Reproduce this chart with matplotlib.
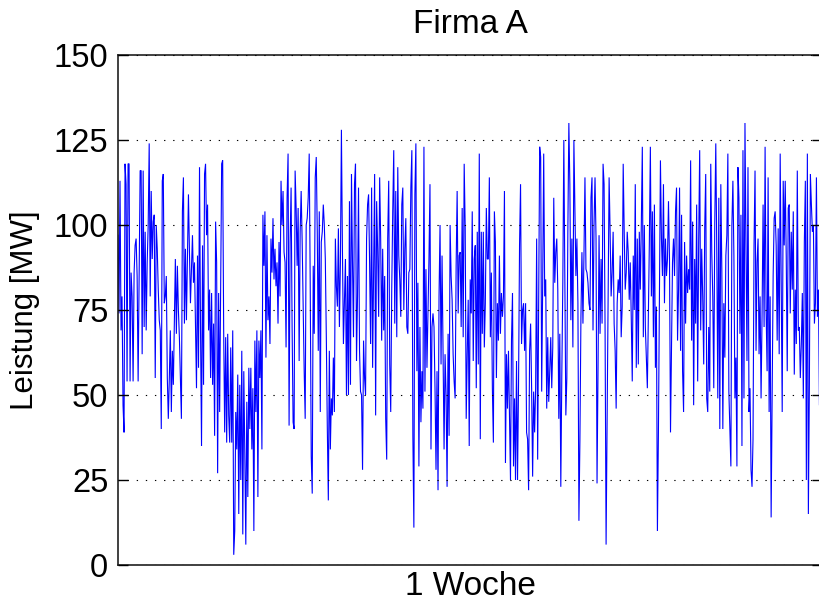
import matplotlib
matplotlib.use("Agg")
import matplotlib.pyplot as plt
import numpy as np

title_text = "Firma A"
x_label = "1 Woche"
y_label = "Leistung [MW]"
y_ticks = [0, 25, 50, 75, 100, 125, 150]
y_tick_labels = ["0", "25", "50", "75", "100", "125", "150"]

leistung_teil1 = [97, 74, 113, 69, 79, 47, 39, 118, 112, 54, 118, 118, 54, 86, 79, 54, 86, 94, 96, 85,
                  54, 84, 116, 116, 62, 116, 70, 98, 69, 89, 100, 124, 79, 110, 90, 101, 103, 55, 100, 93,
                  81, 72, 69, 40, 113, 115, 77, 79, 85, 55, 43, 55, 69, 45, 63, 53, 71, 90, 68, 88,
                  75, 67, 55, 43, 104, 114, 71, 93, 72, 90, 109, 92, 77, 87, 97, 83, 89, 71, 52, 91,
                  58, 117, 69, 35, 94, 53, 115, 118, 97, 106, 69, 81, 55, 80, 53, 71, 38, 101, 89, 27,
                  80, 45, 81, 118, 119, 69, 39, 67, 36, 68, 44, 36, 64, 36, 69, 3, 10, 45, 34, 56,
                  15, 53, 25]
leistung_teil2 = [63, 9, 57, 33, 6, 48, 20, 58, 40, 58, 34, 52, 10, 66, 45, 69, 20, 66, 55, 69, 34,
                  103, 88, 104, 61, 97, 72, 79, 65, 96, 86, 102, 84, 93, 82, 89, 71, 95, 79, 113, 100,
                  110, 92, 89, 64, 108, 121, 41, 95, 111, 70, 42, 40, 116, 105, 88, 105, 60, 98, 110, 95,
                  76, 57, 43, 100, 102, 108, 121, 83, 32, 21, 88, 68, 114, 120, 98, 63, 104, 45, 95, 98,
                  106, 100, 90, 67, 40, 19, 63, 34, 49, 44, 61, 45, 96, 82, 76, 99, 70, 89, 128, 93,
                  65, 78, 90, 50, 85, 50, 107, 53, 115, 89, 67, 112, 118, 60, 79, 111, 63, 51]
leistung_teil3 = [50, 28, 66, 55, 50, 96, 106, 109, 89, 65, 111, 58, 86, 115, 44, 107, 93, 73, 114, 96,
                  66, 93, 69, 85, 43, 31, 96, 113, 59, 45, 81, 104, 122, 71, 110, 67, 117, 91, 84, 73,
                  106, 111, 75, 93, 102, 70, 68, 86, 87, 111, 122, 38, 11, 109, 124, 57, 83, 29, 70, 42,
                  57, 46, 123, 51, 87, 58, 74, 90, 112, 34, 70, 74, 70, 52, 28, 57, 22, 79, 100, 59,
                  91, 61, 34, 62, 50, 23, 68, 38, 100, 85, 78, 62, 54, 49, 88, 110, 74, 91, 92, 70,
                  105, 67, 118, 99, 43, 62, 78, 35, 84, 74, 104, 60, 90, 94, 52]
leistung_teil4 = [98, 59, 121, 37, 98, 68, 98, 64, 77, 105, 90, 90, 114, 67, 86, 52, 36, 104, 95, 55,
                  77, 66, 91, 68, 80, 73, 79, 110, 30, 62, 46, 63, 44, 25, 66, 80, 29, 49, 25, 60,
                  25, 53, 94, 112, 65, 75, 77, 63, 77, 39, 37, 22, 63, 71, 52, 26, 51, 39, 52, 96,
                  31, 77, 123, 120, 51, 83, 121, 79, 84, 46, 67, 48, 57, 67, 52, 64, 108, 83, 92, 96,
                  81, 43, 68, 23, 56, 83, 125, 85, 44, 55, 98, 130, 112, 72, 96, 64, 125, 106, 85, 96,
                  77, 13, 37, 73, 92, 71, 91, 114, 87, 86, 83, 77, 75, 108, 114, 69, 100, 114, 96, 24,
                  58, 97]
leistung_teil5 = [68, 90, 71, 118, 112, 69, 6, 43, 81, 114, 98, 79, 86, 98, 71, 63, 46, 77, 84, 80,
                  91, 67, 76, 118, 98, 81, 86, 98, 92, 78, 89, 73, 54, 91, 75, 112, 58, 96, 59, 98,
                  81, 100, 123, 67, 100, 70, 61, 52, 74, 95, 123, 79, 104, 67, 106, 58, 76, 10, 39, 79,
                  119, 96, 85, 112, 77, 96, 85, 90, 107, 90, 39, 64, 89, 96, 85, 104, 111, 66, 81, 111,
                  63, 103, 57, 45, 95, 71, 91, 80, 87, 81, 119, 66, 101, 47, 90, 71, 106, 54, 95, 122,
                  69, 93, 79, 59, 99, 115, 49, 45, 70, 51, 118, 92, 79, 52, 101, 124, 92, 49, 108, 40,
                  112, 87]
leistung_teil6 = [40, 77, 61, 91, 97, 121, 51, 40, 29, 100, 113, 91, 49, 61, 29, 117, 108, 68, 103, 35,
                  122, 49, 130, 94, 60, 117, 45, 52, 28, 23, 37, 94, 116, 63, 89, 96, 62, 79, 49, 74,
                  106, 70, 123, 75, 57, 114, 45, 79, 14, 49, 85, 102, 104, 94, 66, 99, 62, 121, 83, 45,
                  113, 94, 113, 91, 57, 105, 106, 74, 98, 81, 104, 56, 81, 65, 116, 69, 70, 55, 65, 80,
                  49, 95, 113, 25, 121, 15, 53, 115, 106, 98, 100, 71, 77, 114, 73, 81, 47, 47, 97, 86]

leistung = np.array(leistung_teil1 + leistung_teil2 + leistung_teil3 +
                    leistung_teil4 + leistung_teil5 + leistung_teil6, dtype=float)
zeit = np.arange(len(leistung))

plt.rcParams['font.family'] = ['Liberation Sans', 'DejaVu Sans']

fig = plt.figure(figsize=(8.2, 6.03), dpi=100)
ax = fig.add_axes([118/820, 38/603, 1.0 - 118/820 + 0.003, 510/603])

ax.plot(zeit, leistung, color='#0000ff', lw=0.8, solid_joinstyle='miter')

ax.set_xlim(0, len(leistung) - 1)
ax.set_ylim(0, 150)
ax.set_yticks(y_ticks)
ax.set_yticklabels(y_tick_labels)
ax.set_xticks([])

ax.yaxis.grid(True, color='black', linestyle=(0, (1.2, 7)), linewidth=0.8)
ax.set_axisbelow(False)
ax.tick_params(axis='y', direction='in', length=7, width=1.0, labelsize=23.5, pad=7, right=True)

for sp in ax.spines.values():
    sp.set_linewidth(1.2)
    sp.set_color('#202020')

ax.set_title(title_text, fontsize=24, pad=16)
ax.set_xlabel(x_label, fontsize=24, labelpad=4)
ax.set_ylabel(y_label, fontsize=22.5, labelpad=10)

fig.savefig("out.png", dpi=100)
